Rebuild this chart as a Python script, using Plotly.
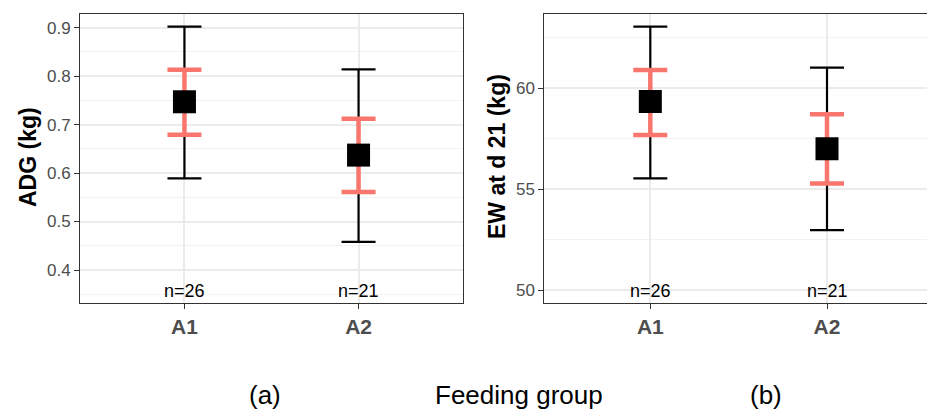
import plotly.graph_objects as go

groups = ["A1", "A2"]
n_labels = ["n=26", "n=21"]

# Panel (a): ADG (kg)
adg_mean = [0.747, 0.637]
adg_outer_lo = [0.589, 0.458]
adg_outer_hi = [0.902, 0.814]
adg_inner_lo = [0.679, 0.561]
adg_inner_hi = [0.813, 0.712]

# Panel (b): EW at d 21 (kg)
ew_mean = [59.34, 57.0]
ew_outer_lo = [55.54, 52.97]
ew_outer_hi = [63.05, 61.02]
ew_inner_lo = [57.68, 55.28]
ew_inner_hi = [60.91, 58.71]

BLACK = "#000000"
RED = "#F8766D"
GRID = "#EBEBEB"
MINOR = "#F2F2F2"
TXT = "#4D4D4D"
FONT = "Liberation Sans, Arial"

fig = go.Figure()


def add_panel(xa, ya, mean, olo, ohi, ilo, ihi):
    fig.add_trace(go.Scatter(
        x=groups, y=mean, xaxis=xa, yaxis=ya, mode="markers",
        marker=dict(size=1, color="rgba(0,0,0,0)"),
        error_y=dict(type="data", symmetric=False,
                     array=[h - m for h, m in zip(ohi, mean)],
                     arrayminus=[m - l for m, l in zip(mean, olo)],
                     color=BLACK, thickness=2.2, width=17),
        showlegend=False, hoverinfo="skip"))
    fig.add_trace(go.Scatter(
        x=groups, y=mean, xaxis=xa, yaxis=ya, mode="markers",
        marker=dict(size=1, color="rgba(0,0,0,0)"),
        error_y=dict(type="data", symmetric=False,
                     array=[h - m for h, m in zip(ihi, mean)],
                     arrayminus=[m - l for m, l in zip(mean, ilo)],
                     color=RED, thickness=4.5, width=17),
        showlegend=False, hoverinfo="skip"))
    fig.add_trace(go.Scatter(
        x=groups, y=mean, xaxis=xa, yaxis=ya, mode="markers",
        marker=dict(symbol="square", size=23, color=BLACK),
        showlegend=False))


add_panel("x", "y", adg_mean, adg_outer_lo, adg_outer_hi, adg_inner_lo, adg_inner_hi)
add_panel("x2", "y2", ew_mean, ew_outer_lo, ew_outer_hi, ew_inner_lo, ew_inner_hi)

W, H = 927, 414
ytop = 1 - 14 / H
ybot = 1 - 303 / H

xcommon = dict(
    type="category", showgrid=True, gridcolor=GRID, gridwidth=1.5,
    showline=True, mirror=True, linecolor="#333333", linewidth=1,
    ticks="outside", ticklen=5, tickcolor="#333333", tickwidth=1,
    tickfont=dict(family=FONT, size=21, color=TXT, weight="bold"),
    zeroline=False, fixedrange=True,
)
ycommon = dict(
    showgrid=True, gridcolor=GRID, gridwidth=1.5,
    showline=True, mirror=True, linecolor="#333333", linewidth=1,
    ticks="outside", ticklen=5, tickcolor="#333333", tickwidth=1,
    tickfont=dict(family=FONT, size=17, color=TXT),
    zeroline=False, fixedrange=True,
)

fig.update_layout(
    width=W, height=H,
    margin=dict(l=0, r=0, t=0, b=0),
    paper_bgcolor="white", plot_bgcolor="white",
    xaxis=dict(xcommon, domain=[80 / W, 463 / W], range=[-0.6, 1.6], anchor="y"),
    yaxis=dict(ycommon, domain=[ybot, ytop], range=[0.332, 0.928],
               tickvals=[0.4, 0.5, 0.6, 0.7, 0.8, 0.9],
               ticktext=["0.4", "0.5", "0.6", "0.7", "0.8", "0.9"],
               minor=dict(tickvals=[0.35, 0.45, 0.55, 0.65, 0.75, 0.85],
                          showgrid=True, gridcolor=MINOR, gridwidth=1, ticks=""),
               anchor="x"),
    xaxis2=dict(xcommon, domain=[544.3 / W, 1.0], range=[-0.6, 1.566], anchor="y2"),
    yaxis2=dict(ycommon, domain=[ybot, ytop], range=[49.36, 63.68],
                tickvals=[50, 55, 60],
                minor=dict(tickvals=[52.5, 57.5, 62.5],
                           showgrid=True, gridcolor=MINOR, gridwidth=1, ticks=""),
                anchor="x2"),
)

ann = []
for xr, yr, yv in (("x", "y", 0.357), ("x2", "y2", 49.95)):
    for g, t in zip(groups, n_labels):
        ann.append(dict(x=g, y=yv, xref=xr, yref=yr, text=t, showarrow=False,
                        font=dict(family=FONT, size=18, color="black"),
                        xanchor="center", yanchor="middle"))

ann.append(dict(x=28 / W, y=1 - 157 / H, xref="paper", yref="paper", text="<b>ADG (kg)</b>",
                textangle=-90, showarrow=False,
                font=dict(family=FONT, size=23, color="black"),
                xanchor="center", yanchor="middle"))
ann.append(dict(x=497 / W, y=1 - 157 / H, xref="paper", yref="paper", text="<b>EW at d 21 (kg)</b>",
                textangle=-90, showarrow=False,
                font=dict(family=FONT, size=23, color="black"),
                xanchor="center", yanchor="middle"))

for xc, t in ((265, "(a)"), (519, "Feeding group"), (766, "(b)")):
    ann.append(dict(x=xc / W, y=1 - 395 / H, xref="paper", yref="paper", text=t,
                    showarrow=False,
                    font=dict(family=FONT, size=26, color="black"),
                    xanchor="center", yanchor="middle"))

fig.update_layout(annotations=ann)
fig.write_html("out.html", config={"displayModeBar": False},
               post_script="document.body.style.margin='0';document.body.style.overflow='hidden';")
